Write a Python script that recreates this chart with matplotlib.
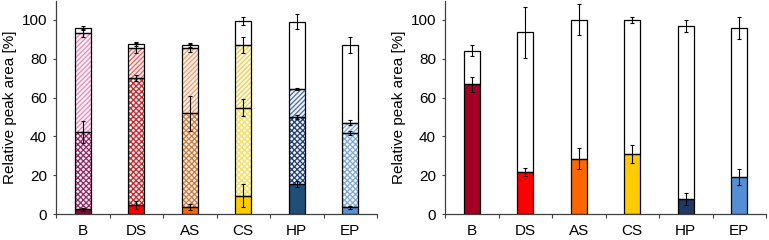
import matplotlib
matplotlib.use("Agg")
import matplotlib.pyplot as plt
import numpy as np

plt.rcParams['font.family'] = ['Liberation Sans', 'DejaVu Sans']
plt.rcParams['hatch.linewidth'] = 0.9

categories = ["B", "DS", "AS", "CS", "HP", "EP"]

# Left chart: stacked segment values (segment heights) and errors at segment tops
left_solid = [2.4, 4.6, 3.8, 9.4, 15.3, 3.4]
left_checker = [39.9, 65.3, 48.1, 45.4, 34.9, 38.5]
left_diag = [50.8, 15.5, 33.5, 32.3, 14.2, 5.2]
left_white = [2.6, 2.1, 1.7, 12.5, 34.7, 40.0]
left_solid_err = [0.8, 2.0, 1.5, 6.0, 1.5, 0.7]
left_checker_err = [5.5, 1.5, 9.0, 4.5, 1.0, 1.0]
left_diag_err = [2.0, 2.5, 2.0, 4.0, 0.7, 1.5]
left_white_err = [1.0, 1.0, 1.0, 2.0, 3.7, 4.0]

# Right chart
right_colored = [66.8, 21.8, 28.4, 30.9, 7.7, 19.2]
right_white = [17.4, 71.8, 71.8, 69.1, 89.2, 76.5]
right_colored_err = [4.0, 2.0, 5.4, 4.4, 3.0, 4.2]
right_white_err = [2.8, 13.0, 8.0, 1.7, 3.3, 5.7]

solid_colors = ["#7A1038", "#FF0000", "#FF6600", "#FFCC00", "#1F4E79", "#5B8FD6"]
right_colors = ["#A50021", "#FF0000", "#FF6600", "#FFCC00", "#1F3864", "#558ED5"]
checker_colors = ["#8E2A62", "#C0282E", "#D07A3C", "#F2E06A", "#1F3F6E", "#7FA9D8"]
checker_bg = ["#F7ECF2", "#FAEAEA", "#FBEFE6", "#FEFAE2", "#ECF0F5", "#F3F7FB"]
diag_colors = ["#E090B8", "#E86060", "#EE9E70", "#E8D060", "#4A6E9E", "#7FA9D8"]
diag_bg = ["#FCEFF5", "#FDEBEB", "#FDF0E8", "#FDF8E0", "#EEF2F7", "#F2F6FB"]

W = 769
H = 240
fig = plt.figure(figsize=(W / 100, H / 100), dpi=100)
ax1 = fig.add_axes([56 / W, 26 / H, 321 / W, 213.5 / H])
ax2 = fig.add_axes([445 / W, 26 / H, 321 / W, 213.5 / H])

x = np.arange(len(categories))
bw = 0.3
err_kw = dict(fmt='none', ecolor='black', elinewidth=0.8, capsize=1.5, capthick=0.8)


def seg(ax, bottom, height, face, hatch=None, hatchcol=None):
    if hatch:
        for i in range(len(x)):
            ax.bar(x[i], height[i], bw, bottom=bottom[i], color=face[i], edgecolor=hatchcol[i],
                   hatch=hatch, linewidth=0, zorder=2)
    else:
        ax.bar(x, height, bw, bottom=bottom, color=face, linewidth=0, zorder=2)
    ax.bar(x, height, bw, bottom=bottom, fill=False, edgecolor='black',
           linewidth=0.9, zorder=3)


b = np.zeros(len(categories))
seg(ax1, b, left_solid, solid_colors)
b1 = b + np.array(left_solid)
seg(ax1, b1, left_checker, checker_bg, 'xxxxxx', checker_colors)
b2 = b1 + np.array(left_checker)
seg(ax1, b2, left_diag, diag_bg, '///////', diag_colors)
b3 = b2 + np.array(left_diag)
seg(ax1, b3, left_white, 'white')
b4 = b3 + np.array(left_white)
for tops, errs in [(b1, left_solid_err), (b2, left_checker_err), (b3, left_diag_err), (b4, left_white_err)]:
    ax1.errorbar(x, tops, yerr=errs, zorder=4, **err_kw)

seg(ax2, np.zeros(len(categories)), right_colored, right_colors)
r1 = np.array(right_colored)
seg(ax2, r1, right_white, 'white')
r2 = r1 + np.array(right_white)
ax2.errorbar(x, r1, yerr=right_colored_err, zorder=4, **err_kw)
ax2.errorbar(x, r2, yerr=right_white_err, zorder=4, **err_kw)

for ax in (ax1, ax2):
    ax.set_xlim(-0.5, len(categories) - 0.5)
    ax.set_ylim(0, 110)
    ax.set_yticks([0, 20, 40, 60, 80, 100])
    ax.set_xticks(x)
    ax.set_xticklabels(categories, fontsize=11)
    ax.set_xticks(np.arange(-0.5, len(categories), 1.0), minor=True)
    ax.tick_params(axis='x', which='major', length=0, pad=7)
    ax.tick_params(axis='x', which='minor', length=3, width=0.8, color='#404040', direction='out')
    ax.tick_params(axis='y', length=2.5, width=0.8, color='#404040', labelsize=11, pad=4)
    for s in ('top', 'right'):
        ax.spines[s].set_visible(False)
    for s in ('left', 'bottom'):
        ax.spines[s].set_color('#404040')
        ax.spines[s].set_linewidth(0.9)
    ax.set_ylabel("Relative peak area [%]", fontsize=11, labelpad=3)

fig.savefig("out.png", dpi=100)
